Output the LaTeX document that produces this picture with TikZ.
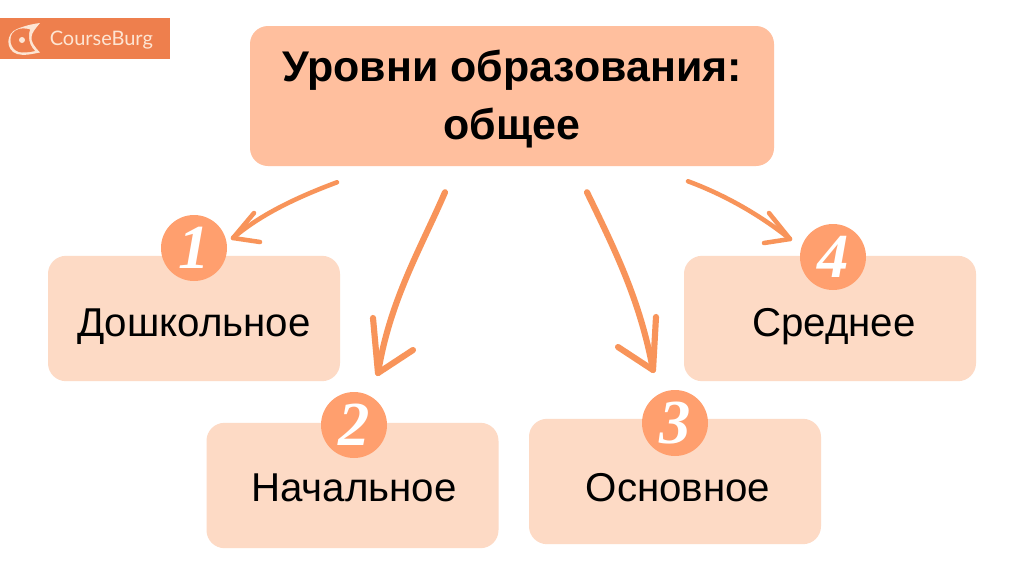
\documentclass[tikz,border=0pt]{standalone}
\usepackage{fontspec}
\setmainfont{Liberation Sans}
\newfontfamily\digitfont{Liberation Serif}
\newfontfamily\logofont{Lato}
\usetikzlibrary{calc}
\definecolor{titlefill}{HTML}{FFBF9E}
\definecolor{boxfill}{HTML}{FDDAC5}
\definecolor{badgefill}{HTML}{FF9F6E}
\definecolor{arrowcol}{HTML}{F8945A}
\definecolor{logofill}{HTML}{EE7F4D}
\definecolor{logotext}{HTML}{FDE5D3}
\tikzset{
  x=0.75pt,y=-0.75pt,
  titlebox/.style={fill=titlefill,rounded corners=13.5pt,inner sep=0pt,minimum width=393pt,minimum height=105pt},
  titletext/.style={inner sep=0pt,align=center,font=\fontsize{32.2}{43.5}\selectfont\bfseries},
  levelbox/.style={fill=boxfill,rounded corners=13.5pt,inner sep=0pt,minimum width=219pt,minimum height=94pt},
  leveltext/.style={inner sep=0pt,font=\fontsize{30.2}{34}\selectfont},
  badge/.style={circle,fill=badgefill,inner sep=0pt,minimum size=49.5pt,text=white,font=\fontsize{47}{47}\selectfont\digitfont\bfseries\itshape},
  thinarrow/.style={draw=arrowcol,line width=3.4pt,line cap=round,line join=round},
  widearrow/.style={draw=arrowcol,line width=4.6pt,line cap=round,line join=round},
}
\begin{document}
\begin{tikzpicture}
\useasboundingbox (0,0) rectangle (1024,576);
\fill[white] (0,0) rectangle (1024,576);
% logo
\node[fill=logofill,inner sep=0pt,minimum width=127.5pt,minimum height=30.75pt] (logo) at (85,38.5) {};
\node[text=logotext,inner sep=0pt,anchor=west,font=\fontsize{15}{16}\logofont] (logoname) at (49.5,40) {CourseBurg};
\fill[logotext] (40,23) .. controls (32,24) and (24,26) .. (17,29) .. controls (6,33) and (5,50) .. (17,54) .. controls (24,56) and (32,54) .. (40,52.5) .. controls (34,46) and (31,42) .. (31.5,37) .. controls (32,32) and (36,28) .. (40,23) -- cycle;
\fill[logofill] (30,29.5) .. controls (22,27) and (15,29) .. (12,34) .. controls (8,41) and (12,52) .. (22,52.5) .. controls (27,52.5) and (31,52) .. (35,51) .. controls (31,47) and (29,42) .. (29,37) .. controls (29,34) and (29,32) .. (30,29.5) -- cycle;
\fill[logotext] (22,40) circle (3);
% boxes
\node[titlebox] (title) at (512,96) {};
\node[titletext] (tt) at (512,99) {Уровни образования:\\общее};
\node[levelbox] (d) at (194,318.5) {};
\node[levelbox] (n) at (352.5,485.5) {};
\node[levelbox] (o) at (675,481.5) {};
\node[levelbox] (s) at (830,318.5) {};
\node[leveltext] (dt) at (194,327) {Дошкольное};
\node[leveltext] (nt) at (354,488) {Начальное};
\node[leveltext] (ot) at (678,488) {Основное};
\node[leveltext] (st) at (834,327) {Среднее};
% badges
\node[badge] (b1) at (194,248) {1};
\node[badge] (b2) at (354,425) {2};
\node[badge] (b3) at (675,423) {3};
\node[badge] (b4) at (833,257) {4};
% connector ends
\coordinate (s1) at ($(title.south)+(-175,16)$);
\coordinate (e1) at ($(b1)+(39,-10)$);
\coordinate (s2) at ($(title.south)+(-67,26)$);
\coordinate (e2) at ($(b2)+(24,-52)$);
\coordinate (s3) at ($(title.south)+(75,26)$);
\coordinate (e3) at ($(b3)+(-22,-53)$);
\coordinate (s4) at ($(title.south)+(176,15)$);
\coordinate (e4) at ($(b4)+(-43,-18)$);
% arrows
\draw[thinarrow] (s1) .. controls (295,198) and (260,215) .. (e1);
\draw[thinarrow] ($(e1)+(21,-25)$) -- (e1) -- ($(e1)+(27,4)$);
\draw[widearrow] (s2) .. controls (420,250) and (390,300) .. (e2);
\draw[widearrow] ($(e2)+(-5,-55)$) -- (e2) -- ($(e2)+(35,-23)$);
\draw[widearrow] (s3) .. controls (615,250) and (640,300) .. (e3);
\draw[widearrow] ($(e3)+(3,-53)$) -- (e3) -- ($(e3)+(-35,-23)$);
\draw[thinarrow] (s4) .. controls (725,195) and (760,215) .. (e4);
\draw[thinarrow] ($(e4)+(-21,-26)$) -- (e4) -- ($(e4)+(-26,4)$);
\end{tikzpicture}
\end{document}
